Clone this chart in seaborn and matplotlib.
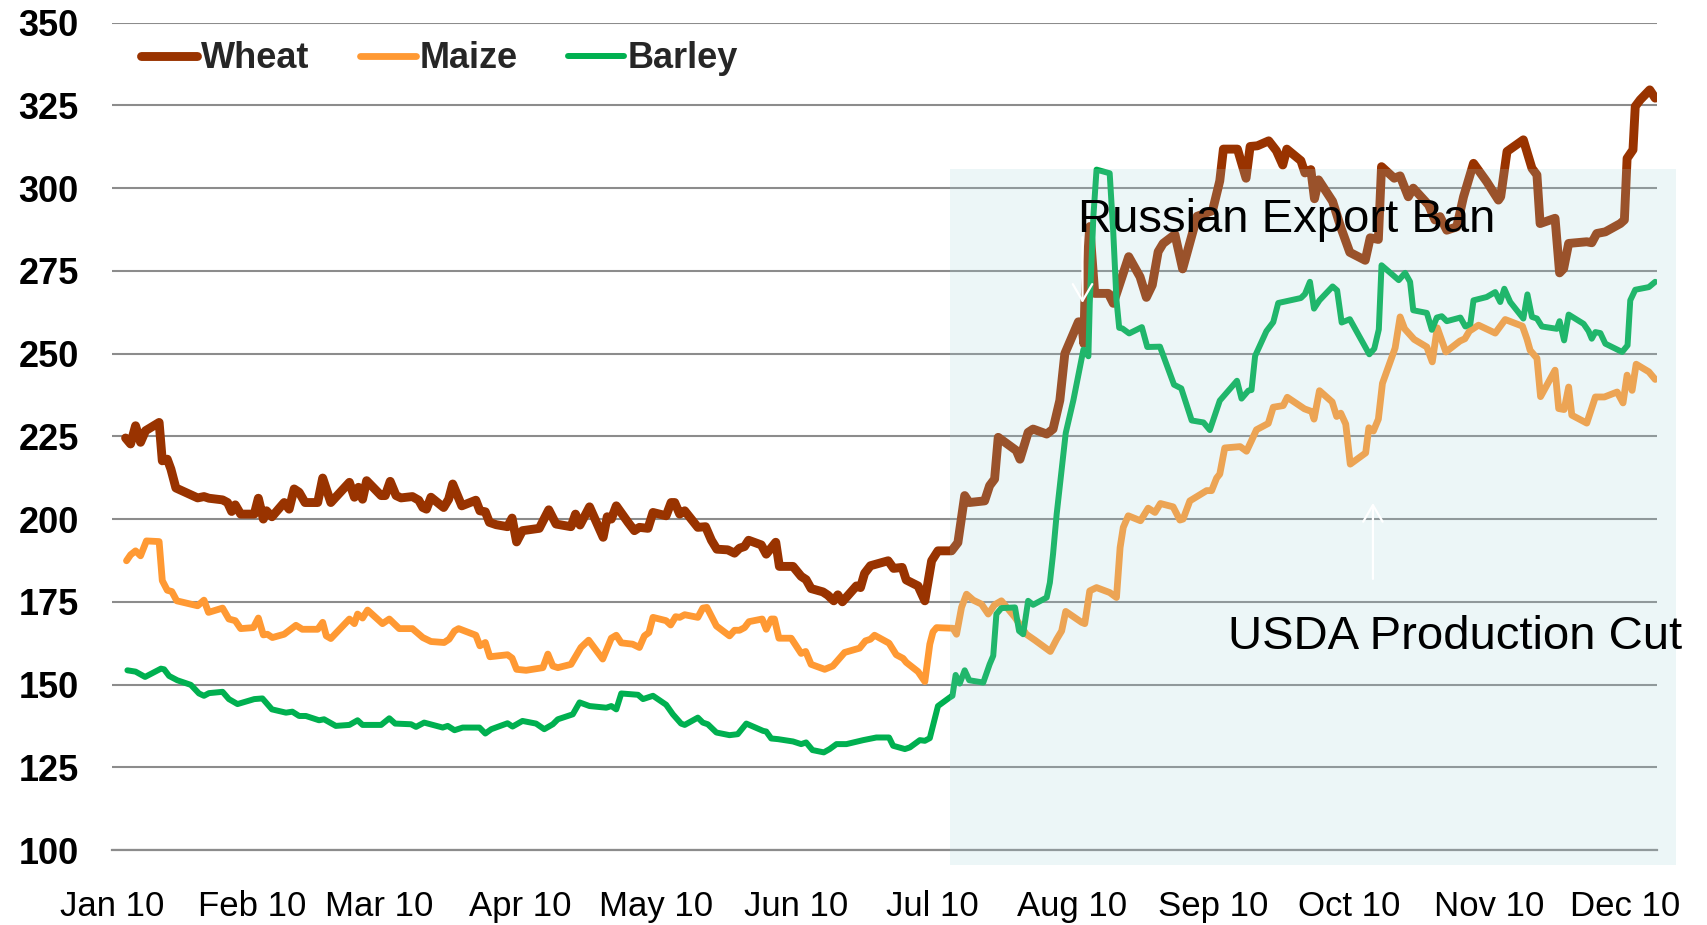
import numpy as np
import pandas as pd
import matplotlib
matplotlib.use("Agg")
import matplotlib.pyplot as plt
import matplotlib.dates as mdates
from matplotlib.patches import Rectangle
import seaborn as sns

# ---------------- data (days since 1 Jan 2010, price) ----------------
wheat_day = [3.0, 4.1, 5.2, 6.3, 7.4, 10.4, 11.1, 12.2, 13.0, 14.1, 18.9, 20.3, 21.4, 24.4, 25.5, 26.4, 27.2,
             28.4, 31.4, 32.3, 33.4, 34.1, 35.3, 38.0, 39.1, 40.2, 41.3, 42.6, 45.4, 46.5, 48.3, 52.4, 53.5,
             54.4, 55.3, 56.2, 59.4, 60.3, 61.4, 62.7, 63.8, 66.3, 67.7, 68.6, 69.4, 70.4, 73.2, 74.3, 75.2,
             77.2, 80.3, 81.2, 82.4, 83.3, 84.8, 87.3, 88.3, 89.3, 90.6, 94.3, 96.4, 98.0, 101.3, 102.3,
             103.3, 105.4, 108.4, 109.3, 110.2, 111.3, 113.9, 115.3, 116.4, 118.3, 119.4, 122.3, 123.4,
             124.2, 125.3, 126.4, 129.3, 131.0, 132.3, 133.5, 135.9, 137.4, 138.5, 139.6, 140.5, 143.3,
             144.4, 146.5, 147.3, 150.3, 152.1, 153.2, 154.3, 156.9, 158.0, 159.3, 160.2, 161.2, 164.3,
             165.2, 166.1, 167.4, 171.3, 172.5, 174.4, 175.3, 177.9, 179.4, 180.9, 182.3, 185.3, 186.7,
             188.2, 189.2, 192.6, 193.7, 194.8, 195.6, 199.6, 200.4, 202.2, 203.3, 206.3, 207.7, 209.2,
             210.3, 213.3, 214.0, 214.5, 214.7, 215.8, 216.9, 219.9, 221.0, 224.4, 226.9, 228.3, 229.6,
             230.9, 232.0, 234.6, 236.3, 237.9, 239.5, 242.9, 244.5, 245.3, 248.4, 250.3, 251.2, 252.8,
             255.3, 257.0, 258.4, 259.3, 262.4, 263.3, 264.6, 265.4, 266.3, 269.4, 271.3, 273.2, 276.6,
             277.7, 279.5, 280.2, 283.0, 284.3, 286.1, 287.2, 290.6, 292.0, 293.1, 294.6, 296.8, 298.3,
             300.5, 303.4, 306.0, 306.5, 307.9, 311.5, 313.4, 314.5, 315.2, 318.5, 319.5, 320.4, 321.5,
             325.5, 326.6, 327.7, 329.6, 332.9, 333.8, 334.4, 335.7, 336.2, 337.3, 339.4, 340.6]
wheat_val = [224.5, 222.7, 228.2, 223.2, 226.7, 229.2, 217.6, 218.1, 215.1, 209.4, 206.4, 206.8, 206.3, 205.8,
             205.0, 202.3, 204.3, 201.5, 201.5, 206.3, 200.0, 202.5, 200.7, 205.0, 203.0, 209.1, 208.1,
             205.0, 205.0, 212.4, 205.0, 211.1, 206.6, 209.6, 206.0, 211.6, 207.1, 207.1, 211.4, 207.1,
             206.4, 206.8, 205.7, 203.5, 203.0, 206.6, 203.5, 206.0, 210.6, 204.0, 205.7, 202.5, 202.2,
             199.0, 198.3, 197.7, 200.3, 193.1, 196.5, 197.2, 202.8, 198.5, 197.7, 201.5, 198.2, 203.7,
             194.5, 200.7, 200.0, 204.0, 199.0, 196.5, 197.5, 197.2, 202.0, 201.0, 205.0, 205.0, 201.5,
             202.5, 197.5, 197.7, 193.6, 190.9, 190.7, 189.7, 191.2, 191.7, 193.6, 192.2, 189.4, 193.0,
             185.7, 185.7, 182.7, 181.7, 179.0, 178.0, 177.0, 175.3, 177.1, 175.0, 179.8, 179.3, 183.6,
             185.9, 187.4, 185.1, 185.4, 181.6, 179.8, 175.3, 187.4, 190.4, 190.4, 192.9, 207.1, 205.0,
             205.5, 210.1, 212.1, 224.7, 220.7, 218.1, 226.2, 227.2, 225.7, 227.2, 235.9, 250.0, 259.6,
             259.6, 253.0, 265.2, 288.4, 268.2, 268.2, 265.2, 279.3, 273.2, 267.0, 270.7, 280.8, 283.3,
             286.0, 275.6, 283.5, 291.5, 293.2, 302.2, 311.8, 311.8, 303.0, 312.6, 312.8, 314.3, 311.3,
             307.0, 311.8, 308.3, 304.6, 305.6, 296.8, 302.5, 296.0, 287.8, 280.6, 278.2, 285.0, 284.5,
             306.5, 303.0, 303.7, 297.4, 300.0, 294.9, 290.4, 291.4, 287.3, 288.3, 297.4, 307.5, 302.0,
             296.4, 297.4, 311.1, 314.6, 306.0, 304.0, 289.3, 290.9, 274.4, 275.7, 283.3, 283.8, 283.5,
             286.3, 286.8, 289.3, 290.4, 309.0, 311.6, 324.7, 326.7, 329.7, 327.2]

maize_day = [3.2, 4.1, 5.2, 6.3, 7.6, 10.4, 11.1, 12.2, 13.2, 14.3, 18.9, 20.3, 21.3, 24.4, 25.8, 27.2, 28.4,
             31.2, 32.3, 33.4, 34.3, 35.4, 38.0, 40.6, 42.0, 45.4, 46.5, 47.3, 48.3, 52.4, 53.5, 54.2, 55.3,
             56.4, 59.7, 61.2, 63.4, 66.3, 68.6, 70.4, 73.3, 74.4, 75.6, 76.5, 80.3, 81.2, 82.4, 83.4, 87.3,
             88.3, 89.3, 91.4, 95.1, 96.2, 97.3, 98.4, 101.3, 103.5, 105.2, 108.3, 110.2, 111.3, 112.4,
             114.9, 116.4, 117.5, 118.5, 119.4, 122.3, 123.3, 124.4, 125.3, 126.4, 129.3, 130.4, 131.3,
             133.4, 136.3, 137.4, 138.5, 139.6, 140.6, 143.5, 144.4, 145.5, 146.2, 147.2, 149.9, 151.0,
             152.1, 153.1, 154.3, 157.3, 159.1, 161.7, 165.0, 166.3, 167.4, 168.3, 171.5, 173.1, 174.6,
             175.3, 177.9, 179.4, 180.5, 181.2, 182.0, 185.6, 186.4, 187.5, 188.6, 190.1, 191.9, 193.4,
             194.8, 196.3, 197.8, 199.3, 201.8, 203.7, 207.1, 208.5, 209.6, 210.5, 214.0, 214.7, 215.8,
             217.3, 220.2, 221.7, 222.5, 223.2, 224.3, 227.0, 228.7, 230.2, 231.4, 234.2, 235.7, 236.4,
             237.9, 241.6, 242.7, 243.8, 244.5, 245.6, 249.0, 250.4, 251.5, 252.6, 255.2, 256.3, 258.5,
             259.4, 263.2, 264.8, 265.3, 266.5, 269.3, 270.3, 271.2, 272.3, 273.3, 276.7, 277.4, 278.4,
             279.5, 280.4, 283.2, 284.3, 285.3, 287.4, 290.2, 291.4, 292.5, 294.4, 297.5, 298.6, 299.6,
             301.6, 305.3, 307.5, 311.3, 312.3, 313.0, 314.5, 315.3, 318.5, 319.3, 320.5, 321.5, 322.2,
             325.5, 327.4, 329.4, 332.2, 333.5, 334.4, 335.5, 336.4, 339.2, 340.6]
maize_val = [187.4, 189.2, 190.4, 188.9, 193.4, 193.2, 181.4, 178.5, 178.1, 175.3, 173.8, 175.5, 171.8, 173.1,
             169.8, 169.3, 166.9, 167.2, 170.1, 165.0, 165.2, 164.2, 165.2, 167.9, 166.7, 166.7, 168.8,
             164.7, 163.9, 169.8, 168.4, 171.3, 170.1, 172.5, 168.4, 169.8, 166.9, 166.9, 164.2, 163.0,
             162.7, 163.7, 166.2, 166.9, 164.9, 161.7, 162.7, 158.4, 159.0, 158.0, 154.6, 154.3, 155.1,
             159.2, 155.6, 155.1, 156.1, 161.2, 163.4, 157.7, 164.0, 164.9, 162.6, 162.2, 161.2, 164.7,
             165.7, 170.3, 169.3, 168.0, 170.5, 170.3, 171.1, 170.3, 173.1, 173.3, 167.7, 164.7, 166.4,
             166.4, 167.2, 169.0, 169.8, 166.7, 169.8, 169.8, 164.0, 164.0, 161.7, 159.4, 160.0, 156.1,
             154.6, 155.6, 159.7, 161.0, 163.2, 163.7, 164.9, 162.5, 159.0, 157.9, 156.7, 153.9, 150.9,
             162.2, 165.9, 167.2, 167.0, 165.2, 173.3, 177.3, 175.5, 174.3, 171.3, 174.1, 175.3, 172.8,
             170.3, 165.2, 163.4, 160.0, 163.7, 166.2, 172.1, 168.8, 168.4, 178.3, 179.3, 177.8, 176.3,
             191.4, 197.5, 201.0, 199.5, 203.3, 202.0, 204.7, 203.7, 199.7, 200.0, 205.5, 208.6, 208.6,
             212.4, 213.6, 221.5, 221.9, 220.5, 223.7, 227.0, 228.9, 233.8, 234.3, 236.8, 233.3, 232.5,
             230.2, 238.8, 235.4, 231.0, 232.0, 228.7, 216.6, 220.0, 227.6, 226.6, 230.2, 241.0, 251.7,
             261.1, 257.5, 254.3, 252.0, 247.5, 257.8, 250.5, 253.8, 254.5, 256.8, 258.6, 256.2, 260.3,
             258.3, 254.4, 251.0, 248.6, 237.0, 245.0, 233.4, 233.1, 239.9, 231.4, 229.0, 236.9, 236.9,
             238.4, 235.1, 243.5, 238.9, 246.8, 244.5, 242.2]

barley_day = [3.4, 5.2, 7.3, 10.8, 11.5, 12.6, 14.4, 17.4, 19.2, 20.3, 21.4, 24.4, 25.8, 27.7, 31.4, 33.2,
              35.3, 38.4, 39.8, 41.3, 42.8, 45.7, 46.8, 49.4, 52.4, 54.2, 55.3, 59.4, 61.2, 62.5, 66.0, 67.1,
              68.9, 73.0, 74.1, 75.6, 77.4, 81.1, 82.4, 83.7, 87.3, 88.4, 90.6, 93.6, 95.4, 97.3, 98.4, 101.7,
              103.2, 105.4, 109.1, 110.2, 111.3, 112.4, 116.1, 117.2, 119.4, 122.3, 123.8, 125.6, 126.4,
              129.3, 130.4, 131.5, 133.4, 136.3, 138.1, 140.0, 143.7, 144.4, 145.5, 147.0, 150.3, 152.1,
              153.2, 154.6, 157.1, 158.4, 159.9, 162.1, 165.8, 168.7, 171.5, 172.4, 175.0, 176.1, 178.3,
              179.4, 180.5, 182.3, 184.9, 185.5, 186.2, 187.1, 188.2, 189.2, 192.3, 193.7, 194.5, 195.2,
              196.3, 199.3, 200.2, 201.1, 202.2, 203.3, 206.3, 207.0, 207.7, 208.5, 210.5, 212.2, 214.4,
              215.5, 215.8, 216.6, 217.3, 220.2, 221.0, 221.7, 222.3, 223.0, 224.5, 227.3, 228.5, 231.3,
              234.4, 236.0, 238.3, 240.9, 242.3, 244.5, 246.4, 248.3, 249.3, 250.8, 251.5, 252.3, 254.8,
              256.3, 257.4, 262.4, 263.3, 264.4, 265.3, 266.5, 269.4, 270.4, 271.4, 273.2, 277.5, 278.6,
              279.6, 280.2, 284.0, 285.4, 286.5, 287.2, 290.2, 291.3, 292.4, 293.5, 294.6, 297.6, 298.7,
              299.8, 300.5, 303.4, 305.3, 306.4, 307.3, 308.6, 311.5, 312.4, 313.4, 314.5, 315.6, 318.9,
              319.5, 320.5, 321.5, 324.8, 325.9, 326.6, 327.4, 328.5, 329.6, 333.3, 334.5, 335.1, 336.2,
              339.2, 340.6]
barley_val = [154.3, 153.9, 152.3, 154.8, 154.6, 152.6, 151.3, 149.9, 147.3, 146.6, 147.4, 147.8, 145.6, 144.1,
              145.6, 145.8, 142.5, 141.5, 141.8, 140.5, 140.5, 139.2, 139.5, 137.5, 137.8, 139.2, 137.8,
              137.8, 139.8, 138.2, 138.0, 137.2, 138.5, 137.0, 137.5, 136.2, 137.0, 137.0, 135.2, 136.5,
              138.3, 137.3, 139.0, 138.2, 136.5, 138.0, 139.5, 141.0, 144.6, 143.5, 143.0, 143.5, 142.5,
              147.3, 146.9, 145.6, 146.6, 143.9, 141.0, 138.2, 137.8, 140.0, 138.5, 138.0, 135.5, 134.7,
              135.0, 138.2, 136.0, 135.8, 133.7, 133.5, 132.8, 132.0, 132.5, 130.2, 129.5, 130.5, 132.0,
              132.0, 133.2, 134.0, 134.0, 131.5, 130.5, 131.0, 133.2, 133.0, 133.8, 143.5, 146.1, 146.6,
              152.9, 150.3, 154.3, 151.3, 150.6, 156.1, 158.7, 171.3, 173.1, 173.3, 166.2, 165.2, 175.3,
              174.1, 176.3, 180.8, 189.4, 201.5, 226.0, 236.0, 251.2, 249.2, 265.2, 291.4, 305.6, 304.5,
              286.4, 266.2, 257.8, 257.6, 256.1, 258.0, 252.0, 252.1, 240.6, 239.5, 229.8, 229.2, 226.9,
              235.8, 238.8, 241.8, 236.4, 238.8, 239.0, 249.3, 256.8, 259.5, 265.3, 266.8, 268.0, 271.7,
              263.6, 266.1, 270.3, 269.1, 259.4, 260.4, 249.8, 251.5, 257.3, 276.7, 272.2, 274.4, 271.7,
              263.1, 262.3, 257.2, 260.9, 261.3, 259.8, 260.9, 258.2, 259.0, 266.1, 267.1, 268.6, 265.6,
              269.6, 265.6, 260.6, 267.9, 261.1, 260.6, 258.2, 257.5, 259.8, 254.0, 261.8, 259.0, 256.8,
              254.5, 256.5, 256.2, 253.0, 250.5, 252.5, 266.1, 269.3, 270.1, 271.7]

series_names = ["Wheat", "Maize", "Barley"]
series_colors = ["#993300", "#FF9933", "#00B050"]
y_ticks = [100, 125, 150, 175, 200, 225, 250, 275, 300, 325, 350]
annotation_texts = ["Russian Export Ban", "USDA Production Cut"]

# ---------------- build frame ----------------
base = pd.Timestamp("2010-01-01")
def to_dates(days):
    return base + pd.to_timedelta(np.asarray(days, dtype=float), unit="D")

frames = []
for name, d, v in [("Wheat", wheat_day, wheat_val), ("Maize", maize_day, maize_val),
                   ("Barley", barley_day, barley_val)]:
    frames.append(pd.DataFrame({"date": to_dates(d), "price": v, "crop": name}))
df = pd.concat(frames, ignore_index=True)

# ---------------- style ----------------
sns.set_style("white")
plt.rcParams["font.family"] = ["Liberation Sans", "DejaVu Sans"]

W, H = 1708, 925
fig = plt.figure(figsize=(W / 100, H / 100), dpi=100)
ax = fig.add_axes([112 / W, 1 - 850 / H, (1657 - 112) / W, (850 - 22.7) / H])

grid_col = "#8C8C8C"
widths = {"Wheat": 6.4, "Maize": 4.9, "Barley": 4.3}
for name, col in zip(series_names, series_colors):
    sub = df[df["crop"] == name]
    sns.lineplot(data=sub, x="date", y="price", ax=ax, color=col,
                 label=name, sort=False, estimator=None, zorder=3)
for line in ax.get_lines():
    lab = line.get_label()
    if lab in widths:
        line.set_linewidth(widths[lab])
        line.set_solid_joinstyle("round")
        line.set_solid_capstyle("round")

ax.set_xlim(base, base + pd.Timedelta(days=341))
ax.set_ylim(100, 350)
ax.set_yticks(y_ticks)
ax.set_xlabel("")
ax.set_ylabel("")

ax.xaxis.set_major_locator(mdates.MonthLocator())
ax.xaxis.set_major_formatter(mdates.DateFormatter("%b %y"))

ax.yaxis.grid(True, color=grid_col, lw=1.5, zorder=1)
ax.xaxis.grid(False)
ax.set_axisbelow(True)
for s in ["left", "right", "top"]:
    ax.spines[s].set_visible(False)
ax.spines["bottom"].set_color(grid_col)
ax.spines["bottom"].set_linewidth(1.6)

ax.tick_params(axis="x", length=7.5, width=1.3, color=grid_col, direction="out",
               pad=21, labelsize=25, labelcolor="black")
ax.tick_params(axis="y", length=0, pad=24, labelsize=26, labelcolor="black")
for lab in ax.get_yticklabels():
    lab.set_fontweight("bold")

# ---------------- shaded period ----------------
x0 = mdates.date2num(base + pd.Timedelta(days=184.9))
x1 = mdates.date2num(base + pd.Timedelta(days=345.2))
rect = Rectangle((x0, 95.5), x1 - x0, 305.8 - 95.5, transform=ax.transData,
                 facecolor="#A3D2DA", edgecolor="none", alpha=0.2, zorder=4, clip_on=False)
ax.add_patch(rect)

# ---------------- annotations ----------------
def dnum(day):
    return mdates.date2num(base + pd.Timedelta(days=day))

ax.text(dnum(213.2), 286.7, annotation_texts[0], fontsize=34, color="black",
        va="baseline", ha="left", zorder=6)
ax.text(dnum(246.3), 160.7, annotation_texts[1], fontsize=34, color="black",
        va="baseline", ha="left", zorder=6, clip_on=False)
arrow_style = "->,head_length=0.6,head_width=0.35"
ax.annotate("", xy=(dnum(214.2), 265.3), xytext=(dnum(214.2), 285.2),
            arrowprops=dict(arrowstyle=arrow_style, color="white", lw=1.6,
                            shrinkA=0, shrinkB=0, mutation_scale=20), zorder=7)
ax.annotate("", xy=(dnum(278.3), 204.9), xytext=(dnum(278.3), 181.9),
            arrowprops=dict(arrowstyle=arrow_style, color="white", lw=1.6,
                            shrinkA=0, shrinkB=0, mutation_scale=20), zorder=7)

# ---------------- legend ----------------
if ax.get_legend() is not None:
    ax.get_legend().remove()
handles, labels = ax.get_legend_handles_labels()
leg = fig.legend(handles, labels, loc="center left", bbox_to_anchor=(141 / W, 1 - 59 / H),
                 ncol=3, frameon=False, borderpad=0, borderaxespad=0,
                 handlelength=1.55, handletextpad=0.1, columnspacing=1.4,
                 prop={"size": 26, "weight": "bold"})
for h in leg.get_lines():
    lab = h.get_label()
    if lab in widths:
        h.set_linewidth(widths[lab])

fig.savefig("out.png", dpi=100)
